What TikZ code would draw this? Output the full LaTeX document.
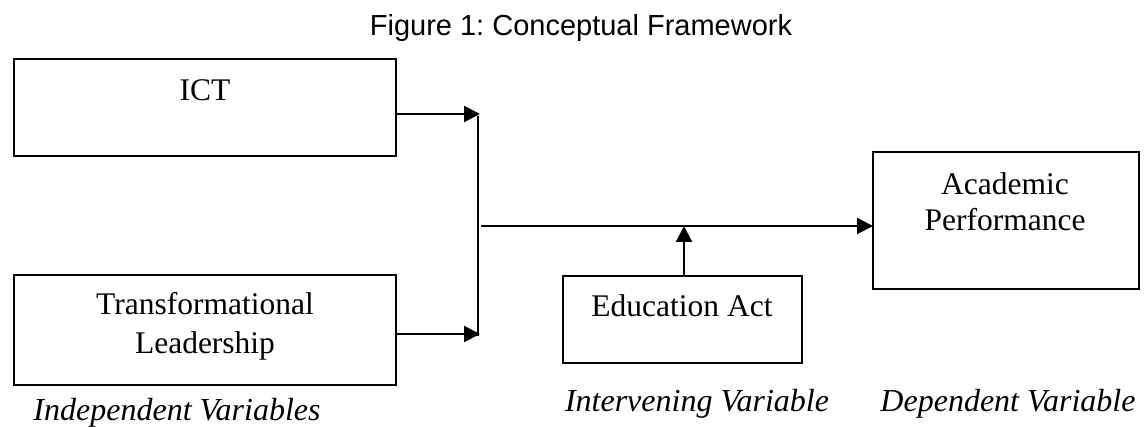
\documentclass[tikz,border=0pt]{standalone}
\usepackage{fontspec}
\setmainfont{Liberation Serif}
\newfontfamily\arialf{Liberation Sans}
\usetikzlibrary{arrows.meta}
\frenchspacing
\begin{document}
\begin{tikzpicture}[x=1pt,y=-1pt,
  box/.style={draw, line width=2.1pt, inner sep=0pt, outer sep=0pt},
  txt/.style={font=\fontsize{31.5}{37}\selectfont, inner sep=0pt, anchor=base},
  lab/.style={font=\fontsize{32}{37}\selectfont\itshape, inner sep=0pt, anchor=base},
  conn/.style={line width=2.1pt},
  arr/.style={line width=2.1pt, -{Triangle[length=16pt,width=16pt]}}
]
\useasboundingbox (0,0) rectangle (1148,427);
% title
\node[font=\arialf\fontsize{29}{34}\selectfont, inner sep=0pt, anchor=base] (title) at (581,36) {Figure 1: Conceptual Framework};
% boxes
\node[box, minimum width=382pt, minimum height=97pt] (ict) at (205,107.5) {};
\node[box, minimum width=382pt, minimum height=110pt] (tl) at (205,330) {};
\node[box, minimum width=239pt, minimum height=87pt] (edu) at (682.5,319.5) {};
\node[box, minimum width=266pt, minimum height=137pt] (acad) at (1006,220.5) {};
% box texts
\node[txt] (ictT) at (205,101) {ICT};
\node[txt] (tl1) at (205,315) {Transformational};
\node[txt] (tl2) at (205,353) {Leadership};
\node[txt] (eduT) at (682,317) {Education Act};
\node[txt] (ac1) at (1005,195) {Academic};
\node[txt] (ac2) at (1005,231) {Performance};
% labels
\node[lab] (indep) at (177,420) {Independent Variables};
\node[lab] (interv) at (697,411) {Intervening Variable};
\node[lab] (dep) at (1008,411) {Dependent Variable};
% connectors
\coordinate (j1) at (480,114);
\coordinate (j2) at (480,334);
\coordinate (h0) at (481,226);
\coordinate (up) at (684,226);
\draw[arr] (ict.east |- j1) -- (j1);
\draw[arr] (tl.east |- j2) -- (j2);
\draw[conn] (478,116) -- (478,336);
\draw[arr] (h0) -- (acad.west |- h0);
\draw[arr] (edu.north -| up) -- (up);
\end{tikzpicture}
\end{document}
